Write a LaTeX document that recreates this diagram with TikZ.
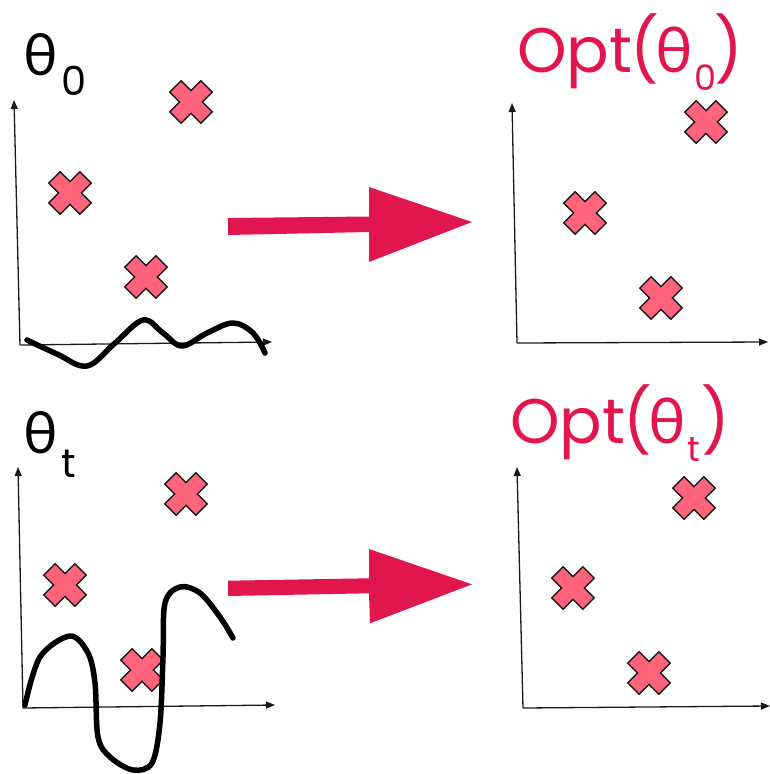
\documentclass[tikz,border=0pt]{standalone}
\usepackage{fontspec}
\usetikzlibrary{arrows.meta}
\newfontfamily\popfont{Poppins}
\newfontfamily\grkfont{Lato}
\definecolor{crim}{RGB}{225,22,76}
\definecolor{crossfill}{RGB}{255,100,124}
\definecolor{inkk}{RGB}{25,25,25}
\tikzset{
  axisline/.style={draw=inkk,line width=1.3pt,-{Triangle[length=9pt,width=7pt]}},
  crossshape/.style={fill=crossfill,draw=inkk,line width=1.4pt,line join=miter},
  xmark/.pic={\path[crossshape,rotate=45] (-8,22)--(8,22)--(8,8)--(22,8)--(22,-8)--(8,-8)--(8,-22)--(-8,-22)--(-8,-8)--(-22,-8)--(-22,8)--(-8,8)--cycle;},
  curveline/.style={draw=black,line width=5.5pt,line cap=round,line join=round},
  bigarrow/.style={fill=crim,draw=none},
  thlabel/.style={inner sep=0pt,anchor=base west,text=black},
  optlabel/.style={inner sep=0pt,anchor=base west,text=crim},
}
\newcommand{\optsub}[1]{\raisebox{-0.3em}{\fontsize{35}{37}\selectfont\popfont #1}}
\begin{document}
\begin{tikzpicture}[x=1pt,y=-1pt]
\useasboundingbox (0,0) rectangle (770,774);
% ---------- top-left panel ----------
\node[thlabel] (th0) at (23,75) {\fontsize{58}{60}\selectfont\grkfont θ};
\node[thlabel] (th0s) at (61,95) {\fontsize{40}{42}\selectfont\popfont 0};
\coordinate (o1) at (20,345);
\coordinate (y1) at (14,100);
\coordinate (x1) at (272,342);
\draw[axisline] (o1) -- (y1);
\draw[axisline] (o1) -- (x1);
\pic at (191,102) {xmark};
\pic at (70,193) {xmark};
\pic at (146,277) {xmark};
\draw[curveline] plot[smooth,tension=0.6] coordinates {(27,340) (57,354) (87,366) (115,343) (143,320) (163,333) (182,346) (207,333) (233,323) (253,333) (265,353)};
% top arrow
\fill[bigarrow] (228,218) -- (369,216.5) -- (369,187) -- (472,222) -- (369,262) -- (369,232) -- (228,235) -- cycle;
% ---------- top-right panel ----------
\node[optlabel] (opt0) at (517,72) {\fontsize{63}{67}\selectfont\popfont Opt\kern-2pt(\kern-3pt\grkfont θ\kern1pt\optsub{0}\kern-2pt\popfont )};
\coordinate (o2) at (517,343);
\coordinate (y2) at (512,103);
\coordinate (x2) at (768,342);
\draw[axisline] (o2) -- (y2);
\draw[axisline] (o2) -- (x2);
\pic at (706,122) {xmark};
\pic at (585,213) {xmark};
\pic at (661,298) {xmark};
% ---------- bottom-left panel ----------
\node[thlabel] (tht) at (23,453) {\fontsize{58}{60}\selectfont\grkfont θ};
\node[thlabel] (thts) at (61,477) {\fontsize{40}{42}\selectfont\popfont t};
\coordinate (o3) at (23,708);
\coordinate (y3) at (18,467);
\coordinate (x3) at (275,705);
\draw[axisline] (o3) -- (y3);
\draw[axisline] (o3) -- (x3);
\pic at (186,494) {xmark};
\pic at (65,585) {xmark};
\pic at (142,670) {xmark};
\draw[curveline] plot[smooth,tension=0.55] coordinates {(25,705) (40,657) (70,636) (88,653) (95,683) (98,737) (110,757) (133,770) (152,763) (160,723) (163,657) (165,603) (180,587) (200,593) (220,617) (233,638)};
% bottom arrow
\fill[bigarrow] (228,580.7) -- (369,578.3) -- (369,549) -- (472,584.3) -- (370,623.3) -- (369,593.3) -- (228,596) -- cycle;
% ---------- bottom-right panel ----------
\node[optlabel] (optt) at (510,443) {\fontsize{63}{67}\selectfont\popfont Opt\kern-2pt(\kern-3pt\grkfont θ\kern1pt\optsub{t}\kern1pt\popfont )};
\coordinate (o4) at (523,708);
\coordinate (y4) at (517,467);
\coordinate (x4) at (770,706);
\draw[axisline] (o4) -- (y4);
\draw[axisline] (o4) -- (x4);
\pic at (694,498) {xmark};
\pic at (573,588) {xmark};
\pic at (649,673) {xmark};
\end{tikzpicture}
\end{document}
